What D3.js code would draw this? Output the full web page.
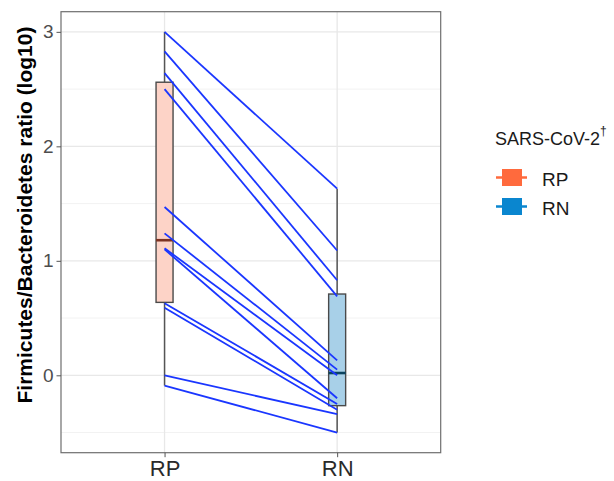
<!DOCTYPE html>
<html>
<head>
<meta charset="utf-8">
<script src="https://cdn.jsdelivr.net/npm/d3@7"></script>
<style>
  body { margin: 0; background: #fff; }
  svg { display: block; font-family: "Liberation Sans", Arial, sans-serif; }
</style>
</head>
<body>
<div id="chart"></div>
<script>
var width = 614;
var height = 481;

// groups, paired values (same subject at RP and RN)
var groups = ["RP", "RN"];
var rpValues = [3.00, 2.83, 2.64, 2.50, 1.47, 1.24, 1.11, 1.10, 0.63, 0.59, 0.00, -0.09];
var rnValues = [1.63, 1.09, 0.83, 0.69, 0.13, 0.05, 0.00, -0.20, -0.25, -0.30, -0.34, -0.50];

// box stats: [whiskerLow, q1, median, q3, whiskerHigh]
var rpBox = [-0.09, 0.637, 1.18, 2.56, 3.00];
var rnBox = [-0.50, -0.265, 0.02, 0.71, 1.63];

var yTicks = [0, 1, 2, 3];
var yMinor = [-0.5, 0.5, 1.5, 2.5];
var legendTitle = "SARS-CoV-2";

var colors = {RP: "#ff6a3d", RN: "#0a86cf"};
var fills = {RP: "#fdd3c7", RN: "#a8d0e8"};
var medianColors = {RP: "#7d3322", RN: "#0b4460"};

var panel = {left: 61, right: 440.7, top: 11.7, bottom: 452.7};

var svg = d3.select("#chart").append("svg")
  .attr("width", width)
  .attr("height", height);

var x = d3.scalePoint()
  .domain(groups)
  .range([panel.left, panel.right])
  .padding(0.6);

var y = d3.scaleLinear()
  .domain([-0.676, 3.176])
  .range([panel.bottom, panel.top]);

// grid
var grid = svg.append("g");
grid.selectAll(".minor")
  .data(yMinor)
  .enter()
  .append("line")
  .attr("x1", panel.left).attr("x2", panel.right)
  .attr("y1", function(d) { return y(d); })
  .attr("y2", function(d) { return y(d); })
  .attr("stroke", "#f2f2f2")
  .attr("stroke-width", 1);

grid.selectAll(".major")
  .data(yTicks)
  .enter()
  .append("line")
  .attr("x1", panel.left).attr("x2", panel.right)
  .attr("y1", function(d) { return y(d); })
  .attr("y2", function(d) { return y(d); })
  .attr("stroke", "#e8e8e8")
  .attr("stroke-width", 1.3);

grid.selectAll(".xmajor")
  .data(groups)
  .enter()
  .append("line")
  .attr("x1", function(d) { return x(d); })
  .attr("x2", function(d) { return x(d); })
  .attr("y1", panel.top).attr("y2", panel.bottom)
  .attr("stroke", "#e8e8e8")
  .attr("stroke-width", 1.3);

// boxes
var boxW = 17;
var boxes = [{g: "RP", s: rpBox}, {g: "RN", s: rnBox}];

var boxG = svg.append("g");
boxes.forEach(function(b) {
  var cx = x(b.g);
  // whiskers
  boxG.append("line")
    .attr("x1", cx).attr("x2", cx)
    .attr("y1", y(b.s[0])).attr("y2", y(b.s[1]))
    .attr("stroke", "#555").attr("stroke-width", 1.5);
  boxG.append("line")
    .attr("x1", cx).attr("x2", cx)
    .attr("y1", y(b.s[3])).attr("y2", y(b.s[4]))
    .attr("stroke", "#555").attr("stroke-width", 1.5);
  boxG.append("rect")
    .attr("x", cx - boxW / 2)
    .attr("y", y(b.s[3]))
    .attr("width", boxW)
    .attr("height", y(b.s[1]) - y(b.s[3]))
    .attr("fill", fills[b.g])
    .attr("stroke", "#4a4a4a")
    .attr("stroke-width", 1.4);
  boxG.append("line")
    .attr("x1", cx - boxW / 2).attr("x2", cx + boxW / 2)
    .attr("y1", y(b.s[2])).attr("y2", y(b.s[2]))
    .attr("stroke", medianColors[b.g]).attr("stroke-width", 2.6);
});

// paired lines
var pairs = rpValues.map(function(v, i) { return [v, rnValues[i]]; });
svg.append("g")
  .selectAll("line")
  .data(pairs)
  .enter()
  .append("line")
  .attr("x1", x("RP"))
  .attr("x2", x("RN"))
  .attr("y1", function(d) { return y(d[0]); })
  .attr("y2", function(d) { return y(d[1]); })
  .attr("stroke", "#1a36ff")
  .attr("stroke-width", 1.8);

// panel border
svg.append("rect")
  .attr("x", panel.left).attr("y", panel.top)
  .attr("width", panel.right - panel.left)
  .attr("height", panel.bottom - panel.top)
  .attr("fill", "none")
  .attr("stroke", "#6e6e6e")
  .attr("stroke-width", 1.2);

// axes
var yAxis = svg.append("g")
  .attr("transform", "translate(" + panel.left + ",0)")
  .call(d3.axisLeft(y).tickValues(yTicks).tickSize(4.5).tickPadding(3).tickFormat(d3.format("d")));
yAxis.select(".domain").remove();
yAxis.selectAll("line").attr("stroke", "#555");
yAxis.selectAll("text")
  .attr("fill", "#4d4d4d")
  .attr("font-size", "19px")
  .attr("font-family", "Liberation Sans, Arial, sans-serif");

var xAxis = svg.append("g")
  .attr("transform", "translate(0," + panel.bottom + ")")
  .call(d3.axisBottom(x).tickSize(4.5).tickPadding(3));
xAxis.select(".domain").remove();
xAxis.selectAll("line").attr("stroke", "#555");
xAxis.selectAll("text")
  .attr("fill", "#2a2a2a")
  .attr("font-size", "22px")
  .attr("font-family", "Liberation Sans, Arial, sans-serif");

// y title
svg.append("text")
  .attr("transform", "translate(32,215) rotate(-90)")
  .attr("text-anchor", "middle")
  .attr("font-size", "21px")
  .attr("font-weight", "bold")
  .attr("fill", "#000")
  .text("Firmicutes/Bacteroidetes ratio (log10)");

// legend
var legend = svg.append("g");
var lt = legend.append("text")
  .attr("x", 495)
  .attr("y", 145)
  .attr("font-size", "18px")
  .attr("fill", "#1a1a1a")
  .text(legendTitle);
lt.append("tspan")
  .attr("dy", -10)
  .attr("font-size", "12px")
  .text("\u2020");

legend.selectAll(".key")
  .data(groups)
  .enter()
  .append("g")
  .attr("transform", function(d, i) { return "translate(0," + (177.5 + i * 29) + ")"; })
  .each(function(d) {
    var k = d3.select(this);
    k.append("line")
      .attr("x1", 496).attr("x2", 527)
      .attr("stroke", colors[d]).attr("stroke-width", 2.5);
    k.append("rect")
      .attr("x", 502).attr("y", -8.5)
      .attr("width", 20).attr("height", 17)
      .attr("fill", colors[d]);
    k.append("text")
      .attr("x", 542)
      .attr("y", 8.5)
      .attr("font-size", "19px")
      .attr("fill", "#1a1a1a")
      .text(d);
  });
</script>
</body>
</html>
